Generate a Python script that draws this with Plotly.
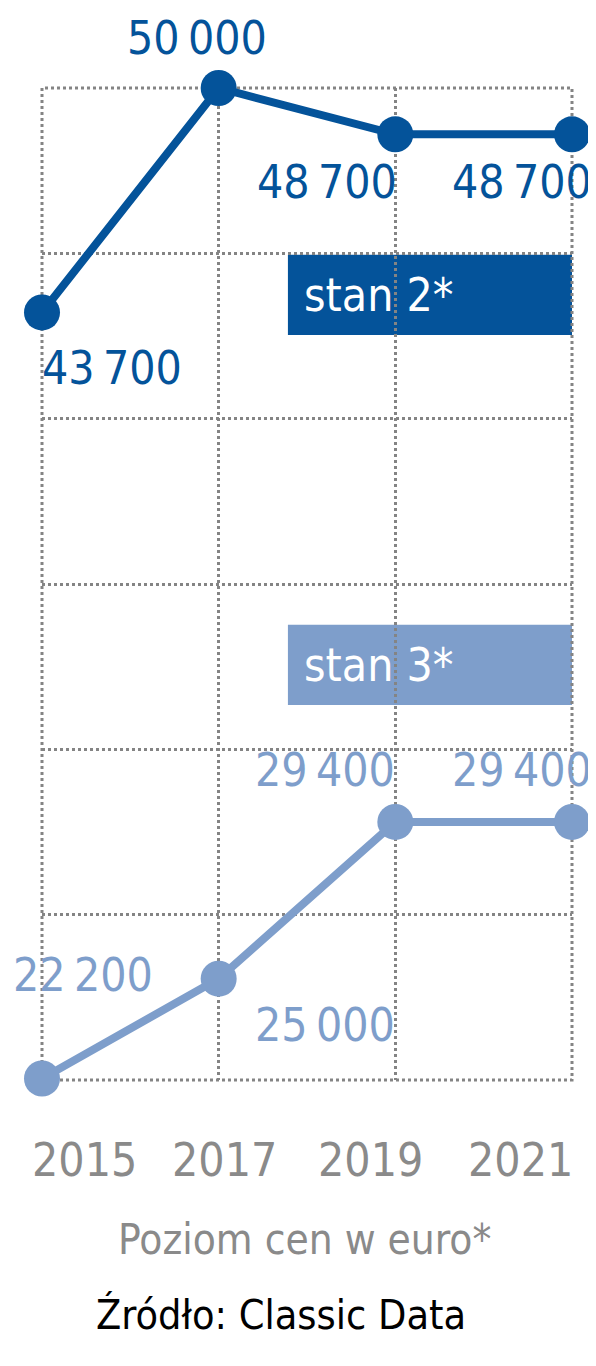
import numpy as np
import plotly.graph_objects as go

# data
years = [2015, 2017, 2019, 2021]
year_labels = ["2015", "2017", "2019", "2021"]
stan2 = [43700, 50000, 48700, 48700]
stan3 = [22200, 25000, 29400, 29400]

DARK = "#04539a"
LIGHT = "#7e9ecb"
GREY = "#8a8a8a"
FONT = "DejaVu Sans Condensed, Roboto Condensed, Liberation Sans Narrow, Roboto"


def fmt(v):
  return f"{v:,}".replace(",", "\u2009")


fig = go.Figure()
for vals, col in [(stan2, DARK), (stan3, LIGHT)]:
  fig.add_trace(go.Scatter(
    x=years, y=vals, mode="lines+markers", cliponaxis=False,
    line=dict(color=col, width=8),
    marker=dict(color=col, size=36),
    hoverinfo="skip", showlegend=False))

# value labels: (xanchor, xshift, yshift) per point
pos2 = [("left", -2, -56), ("center", -22, 50), ("right", 4, -48), ("right", 22, -48)]
pos3 = [("left", -31, 104), ("left", 34, -46), ("right", 2, 52), ("right", 22, 52)]
for vals, pos, col in [(stan2, pos2, DARK), (stan3, pos3, LIGHT)]:
  for x, v, (xa, xs, ys) in zip(years, vals, pos):
    fig.add_annotation(x=x, y=v, text=fmt(v), showarrow=False,
                       xanchor=xa, yanchor="middle", xshift=xs, yshift=ys,
                       font=dict(family=FONT, size=46, color=col))

# boxes "stan 2*" / "stan 3*"
for (y0, y1), col, txt in [((0.751, 0.832), DARK, "stan 2*"), ((0.378, 0.459), LIGHT, "stan 3*")]:
  fig.add_shape(type="rect", xref="paper", yref="paper", x0=0.464, x1=1.0, y0=y0, y1=y1,
                fillcolor=col, line_width=0, layer="below")
  fig.add_annotation(xref="paper", yref="paper", x=0.49, y=(y0 + y1) / 2, text=txt,
                     showarrow=False, xanchor="left", yanchor="middle",
                     font=dict(family=FONT, size=46, color="white"))

# dotted frame (plotly leaves out grid lines on the range ends)
fig.add_shape(type="rect", xref="paper", yref="paper", x0=0, x1=1, y0=0, y1=1,
              line=dict(color="#848484", width=3, dash="dot"), layer="below")

# year labels below
for lab, px in zip(year_labels, [0.081, 0.345, 0.619, 0.902]):
  fig.add_annotation(xref="paper", yref="paper", x=px, y=-0.081, text=lab, showarrow=False,
                     xanchor="center", yanchor="middle",
                     font=dict(family=FONT, size=46, color=GREY))

fig.add_annotation(xref="paper", yref="paper", x=0.496, y=-0.161, text="Poziom cen w euro*",
                   showarrow=False, xanchor="center", yanchor="middle",
                   font=dict(family=FONT, size=42, color=GREY))
fig.add_annotation(xref="paper", yref="paper", x=0.451, y=-0.237, text="Źródło: Classic Data",
                   showarrow=False, xanchor="center", yanchor="middle",
                   font=dict(family=FONT, size=41, color="black"))

ylo, yhi = 22158, 50000
fig.update_xaxes(range=[2015, 2021], tickvals=years, showticklabels=False,
                 showgrid=True, gridcolor="#848484", griddash="dot", gridwidth=3,
                 zeroline=False, showline=False)
fig.update_yaxes(range=[ylo, yhi], tickvals=list(np.linspace(ylo, yhi, 7)), showticklabels=False,
                 showgrid=True, gridcolor="#848484", griddash="dot", gridwidth=3,
                 zeroline=False, showline=False)
fig.update_layout(width=588, height=1358, autosize=False,
                  margin=dict(l=34, r=24, t=80, b=286),
                  plot_bgcolor="white", paper_bgcolor="white")

fig.write_html("out.html")
